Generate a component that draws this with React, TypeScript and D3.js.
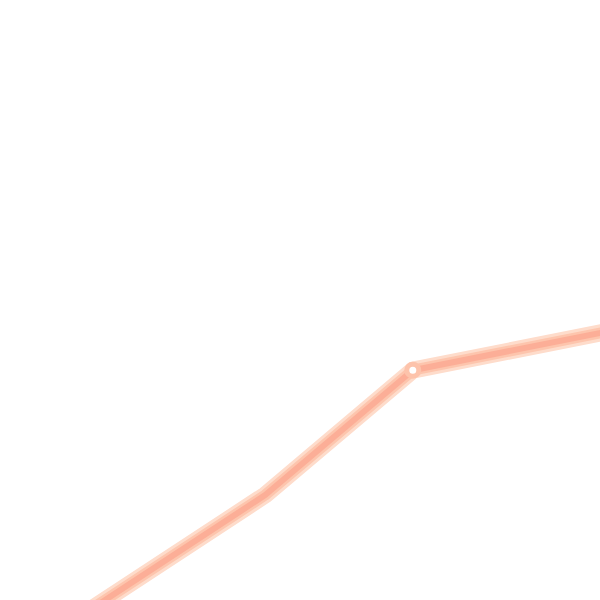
import React from "react";
import * as d3 from "d3";

const xValues = [12.5, 44.2, 68.8, 100.5];
const yValues = [-3.3, 17.5, 38.3, 44.6];
const markerIndex = [2];

export default function App() {
  const W = 600, H = 600;
  const x = d3.scaleLinear().domain([0, 100]).range([0, W]);
  const y = d3.scaleLinear().domain([0, 100]).range([H, 0]);
  const pts: [number, number][] = xValues.map((v, i) => [v, yValues[i]]);
  const line = d3.line<[number, number]>().x(d => x(d[0])).y(d => y(d[1]));
  const path = line(pts) || "";
  return (
    <svg width={W} height={H} style={{ position: "fixed", left: 0, top: 0, background: "#fff" }}>
      <path d={path} fill="none" stroke="#fedccb" strokeWidth={17} strokeLinejoin="round" />
      <path d={path} fill="none" stroke="#fdc5ad" strokeWidth={11} strokeLinejoin="round" />
      <path d={path} fill="none" stroke="#fcae97" strokeWidth={6} strokeLinejoin="round" />
      {markerIndex.map(i => (
        <circle key={i} cx={x(xValues[i])} cy={y(yValues[i])} r={6} fill="#fff" stroke="#fdc3ab" strokeWidth={5} />
      ))}
    </svg>
  );
}
